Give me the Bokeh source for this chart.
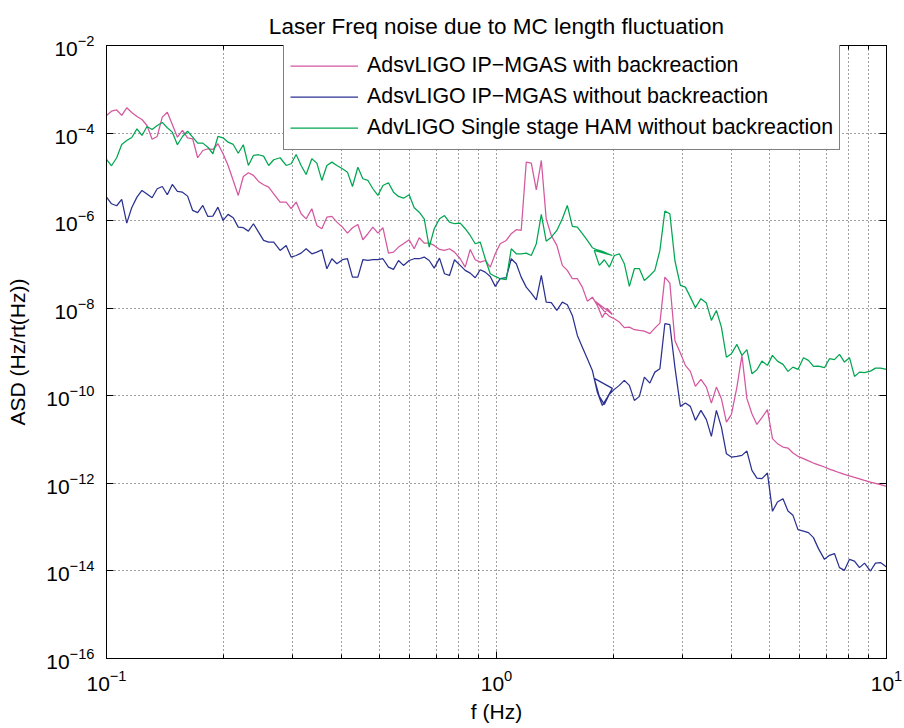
from bokeh.plotting import figure
from bokeh.models import Range1d, FixedTicker, LogAxis, CustomJSTickFormatter
from bokeh.embed import file_html
from bokeh.resources import INLINE

# ---------------- data ----------------
# frequency axis, segment A (0.1 - ~2 Hz) and segment B (~1.8 - 10 Hz)
freq_a = [0.1, 0.103, 0.1062, 0.1094, 0.1127, 0.1161, 0.1197, 0.1233, 0.127, 0.1309,
          0.1349, 0.139, 0.1432, 0.1475, 0.152, 0.1566, 0.1614, 0.1663, 0.1713, 0.1766,
          0.1819, 0.1874, 0.1931, 0.199, 0.205, 0.2113, 0.2177, 0.2243, 0.2311, 0.2381,
          0.2454, 0.2528, 0.2605, 0.2684, 0.2787,
          0.2888, 0.2975, 0.3064, 0.3155, 0.325, 0.3361, 0.3462, 0.3566, 0.3673, 0.3783,
          0.3897, 0.4027, 0.4148, 0.4273, 0.4411, 0.4543, 0.4681, 0.482, 0.4964, 0.5114,
          0.5284, 0.5444, 0.5607, 0.5774, 0.5972, 0.6152, 0.6336, 0.6526, 0.6722, 0.6923,
          0.7143, 0.7356, 0.7576, 0.7805, 0.8072, 0.8313, 0.8563, 0.882, 0.9085, 0.9357,
          0.9638, 0.9927, 1.022,
          1.059, 1.091, 1.124, 1.157, 1.192, 1.228, 1.265, 1.303, 1.341, 1.382,
          1.428, 1.475, 1.519, 1.565, 1.612, 1.66, 1.71, 1.761,
          1.814, 1.868, 1.924, 1.982]
freq_b = [1.781, 1.835, 1.89, 1.947, 2.005, 2.065, 2.127, 2.191, 2.257, 2.325, 2.394,
          2.473, 2.547, 2.624, 2.702, 2.783, 2.867,
          2.961, 3.05, 3.141, 3.236, 3.343,
          3.453, 3.556, 3.663, 3.773, 3.886, 4.003,
          4.135, 4.259, 4.386, 4.518, 4.653, 4.793,
          4.952, 5.1, 5.253,
          5.427, 5.59, 5.757, 5.93,
          6.124, 6.308, 6.497, 6.692,
          6.933, 7.141, 7.355, 7.576, 7.803, 8.037, 8.278, 8.526, 8.782,
          9.097, 9.371, 9.652, 10.0]

# AdsvLIGO IP-MGAS with backreaction
pink_a = [2.53e-4, 3.16e-4, 3.37e-4, 2.53e-4, 3.78e-4, 2.95e-4, 2.39e-4, 2.04e-4, 1.49e-4, 7.25e-5,
          8.37e-5, 2.31e-4, 3.0e-4, 1.57e-4, 8.06e-5, 1.15e-4, 7.81e-5, 7.41e-5, 2.73e-5, 4.0e-5,
          4.38e-5, 4.22e-5, 5.7e-5, 3.37e-5, 1.82e-5, 8.28e-6, 3.76e-6, 1.02e-5, 1.24e-5, 1.08e-5,
          7.85e-6, 6.6e-6, 5.82e-6, 4.11e-6, 2.65e-6,
          2.65e-6, 1.87e-6, 2.65e-6, 1.44e-6, 1.1e-6, 1.87e-6, 7.77e-7, 6.53e-7, 1.2e-6, 1.25e-6,
          9.24e-7, 7.1e-7, 5.18e-7, 6.89e-7, 8.19e-7, 3.66e-7, 5.02e-7, 7.1e-7, 5.18e-7, 6.89e-7,
          1.81e-7, 1.91e-7, 2.49e-7, 2.97e-7, 3.66e-7, 2.28e-7, 4.07e-7, 3.07e-7, 3.07e-7, 2.72e-7,
          2.2e-7, 2.09e-7, 2.28e-7, 1.91e-7, 1.35e-7, 8.67e-8, 2.2e-7, 1.28e-7, 1.13e-7, 1.23e-7,
          8.67e-8, 1.75e-7, 2.97e-7,
          3.53e-7, 5.02e-7, 6.2e-7, 5.97e-7, 2.17e-5, 2.06e-5, 5.07e-6, 2.37e-5, 1.1e-6, 4.59e-7,
          2.72e-7, 9.49e-8, 7.3e-8, 4.72e-8, 4.72e-8, 3.03e-8, 1.45e-8, 1.79e-8,
          1.16e-8, 6.17e-9, 9.9e-9, 7.2e-9]
pink_b = [1.51e-8, 1.16e-8, 8.45e-9, 6.5e-9, 5.76e-9, 4.82e-9, 3.59e-9, 3.7e-9, 3.23e-9, 3.11e-9, 3.0e-9,
          2.62e-9, 3.51e-9, 4.57e-9, 5.13e-8, 3.74e-8, 1.84e-9,
          9.53e-10, 4.95e-10, 3.61e-10, 1.64e-10, 2.37e-10,
          1.58e-10, 6.81e-11, 1.58e-10, 8.6e-11, 2.51e-11, 3.76e-11,
          1.58e-10, 8.37e-10, 8.6e-11, 3.9e-11, 2.22e-11, 3.16e-11,
          4.82e-11, 1.05e-11, 8.06e-12,
          6.74e-12, 6.4e-12, 4.92e-12, 4.14e-12,
          3.66e-12, 3.26e-12, 2.91e-12, 2.65e-12,
          2.36e-12, 2.12e-12, 1.93e-12, 1.75e-12, 1.6e-12, 1.48e-12, 1.37e-12, 1.27e-12, 1.17e-12,
          1.07e-12, 1.0e-12, 9.33e-13, 8.54e-13]

# AdsvLIGO IP-MGAS without backreaction
blue_a = [3.44e-6, 2.43e-6, 2.19e-6, 3.05e-6, 8.77e-7, 2.0e-6, 3.44e-6, 4.89e-6, 4.07e-6, 3.33e-6,
          5.35e-6, 6.03e-6, 3.9e-6, 6.71e-6, 4.64e-6, 4.47e-6, 3.63e-6, 1.71e-6, 1.52e-6, 2.22e-6,
          1.25e-6, 1.27e-6, 2.03e-6, 1.01e-6, 1.39e-6, 1.16e-6, 7.1e-7, 6.89e-7, 5.76e-7, 8.5e-7,
          5.46e-7, 3.53e-7, 3.23e-7, 3.23e-7, 2.09e-7,
          2.72e-7, 1.47e-7, 1.6e-7, 1.81e-7, 2.28e-7, 1.75e-7, 1.91e-7, 2.17e-7, 7.98e-8, 1.35e-7,
          1.04e-7, 1.28e-7, 1.35e-7, 5.13e-8, 5.13e-8, 1.28e-7, 1.23e-7, 1.28e-7, 1.28e-7, 1.35e-7,
          8.67e-8, 7.7e-8, 1.23e-7, 9.49e-8, 1.23e-7, 1.35e-7, 1.35e-7, 1.47e-7, 1.23e-7, 8.23e-8,
          1.39e-7, 6.13e-8, 5.6e-8, 1.28e-7, 9.49e-8, 7.3e-8, 6.33e-8, 4.97e-8, 7.57e-8, 6.68e-8,
          5.32e-8, 3.15e-8, 4.72e-8,
          4.97e-8, 1.35e-7, 1.04e-7, 5.13e-8, 3.03e-8, 2.21e-8, 1.56e-8, 5.6e-8, 1.38e-8, 1.34e-8,
          8.9e-9, 1.38e-8, 1.2e-8, 6.85e-9, 2.39e-9, 1.29e-9, 7.03e-10, 3.8e-10,
          1.2e-10, 6.03e-11, 9.2e-11, 1.48e-10]
blue_b = [2.5e-10, 9.7e-11, 6.36e-11, 1.08e-10, 1.4e-10, 1.73e-10, 2.25e-10, 1.73e-10, 7.85e-11, 9.7e-11, 2.67e-10,
          1.95e-10, 3.47e-10, 4.16e-10, 4.43e-9, 4.2e-9, 4.52e-10,
          5.73e-11, 6.81e-11, 5.73e-11, 2.75e-11, 4.64e-11,
          2.85e-11, 1.18e-11, 4.64e-11, 1.93e-11, 4.76e-12, 3.99e-12,
          4.14e-12, 4.36e-12, 5.46e-12, 1.98e-12, 1.32e-12, 1.28e-12,
          1.72e-12, 2.3e-13, 3.74e-13,
          4.47e-13, 2.33e-13, 1.86e-13, 8.77e-14,
          8.15e-14, 7.5e-14, 5.76e-14, 3.23e-14,
          1.84e-14, 2.27e-14, 2.49e-14, 1.19e-14, 1.03e-14, 1.84e-14, 1.68e-14, 1.19e-14, 1.51e-14,
          9.95e-15, 1.51e-14, 1.55e-14, 1.23e-14]

# AdvLIGO Single stage HAM without backreaction
green_a = [2.5e-5, 1.79e-5, 2.73e-5, 5.5e-5, 6.78e-5, 7.93e-5, 1.25e-4, 8.81e-5, 1.41e-4, 1.21e-4,
           1.49e-4, 1.75e-4, 1.32e-4, 1.05e-4, 5.41e-5, 8.37e-5, 1.1e-4, 8.06e-5, 5.89e-5, 5.89e-5,
           4.76e-5, 3.37e-5, 8.37e-5, 7.81e-5, 6.2e-5, 5.5e-5, 3.47e-5, 5.41e-5, 1.82e-5, 3.08e-5,
           3.2e-5, 2.97e-5, 1.82e-5, 2.46e-5, 2.73e-5,
           1.82e-5, 1.99e-5, 3.25e-5, 1.82e-5, 1.13e-5, 2.59e-5, 2.06e-5, 8.28e-6, 1.82e-5, 2.17e-5,
           1.82e-5, 1.53e-5, 1.28e-5, 6.03e-6, 1.66e-5, 9.05e-6, 8.28e-6, 5.35e-6, 3.76e-6, 6.36e-6,
           7.34e-6, 4.47e-6, 3.57e-6, 3.26e-6, 3.9e-6, 1.97e-6, 1.56e-6, 1.1e-6, 2.49e-7, 6.53e-7,
           1.1e-6, 1.31e-6, 9.24e-7, 8.5e-7, 8.77e-7, 6.53e-7, 4.59e-7, 2.97e-7, 3.23e-7, 1.35e-7,
           6.13e-8, 5.32e-8, 4.72e-8,
           4.47e-8, 2.28e-7, 1.75e-7, 1.75e-7, 1.81e-7, 1.6e-7, 2.97e-7, 1.39e-6, 3.4e-7, 4.2e-7,
           5.97e-7, 1.1e-6, 2.22e-6, 7.37e-7, 7.1e-7, 5.02e-7, 3.53e-7, 2.41e-7,
           2.14e-7, 1.98e-7, 1.78e-7, 1.6e-7]
green_b = [2.09e-7, 9.49e-8, 1.28e-7, 8.67e-8, 1.6e-7, 1.75e-7, 1.04e-7, 3.15e-8, 7.98e-8, 7.98e-8, 4.31e-8,
           5.6e-8, 7.3e-8, 2.09e-7, 1.65e-6, 1.44e-6, 1.23e-7,
           3.32e-8, 3.03e-8, 1.79e-8, 1.03e-8, 1.65e-8,
           1.31e-8, 5.27e-9, 8.9e-9, 3.7e-9, 7.63e-10, 9.16e-10,
           1.49e-9, 8.37e-10, 1.13e-9, 3.2e-10, 3.94e-10, 6.2e-10,
           4.95e-10, 8.37e-10, 6.2e-10,
           5.21e-10, 3.61e-10, 4.52e-10, 4.0e-10,
           7.41e-10, 6.43e-10, 4.69e-10, 4.76e-10,
           4.38e-10, 7.03e-10, 6.68e-10, 8.81e-10, 5.89e-10, 7.41e-10, 2.77e-10, 3.47e-10, 3.37e-10,
           3.66e-10, 4.29e-10, 4.29e-10, 4.0e-10]

series_names = ["AdsvLIGO IP\u2212MGAS with backreaction",
                "AdsvLIGO IP\u2212MGAS without backreaction",
                "AdvLIGO Single stage HAM without backreaction"]
series_colors = ["#d4579f", "#2b3190", "#00a650"]

x_ticks = [0.1, 1.0, 10.0]
x_minor = [0.2, 0.3, 0.4, 0.5, 0.6, 0.7, 0.8, 0.9, 2, 3, 4, 5, 6, 7, 8, 9]
y_ticks = [1e-16, 1e-14, 1e-12, 1e-10, 1e-8, 1e-6, 1e-4, 1e-2]

# ---------------- figure ----------------
FONT = "Liberation Sans"
FS = "21px"

p = figure(width=904, height=728, x_axis_type="log", y_axis_type="log",
           x_range=Range1d(0.1, 10), y_range=Range1d(1e-16, 1e-2),
           output_backend="svg", toolbar_location=None,
           min_border_left=106, min_border_right=18, min_border_top=45, min_border_bottom=70,
           title="Laser Freq noise due to MC length fluctuation")
p.background_fill_color = "white"
p.border_fill_color = "white"
p.outline_line_color = "black"
p.outline_line_width = 1

p.title.align = "center"
p.title.text_font = FONT
p.title.text_font_size = "22.5px"
p.title.text_font_style = "normal"
p.title.text_color = "black"
p.title.standoff = 14

xt = FixedTicker(ticks=x_ticks, minor_ticks=x_minor)
yt = FixedTicker(ticks=y_ticks, minor_ticks=[])
p.xaxis.ticker = xt
p.yaxis.ticker = yt
p.xgrid.ticker = xt
p.ygrid.ticker = yt

for ax in (p.xaxis[0], p.yaxis[0]):
    ax.major_tick_in = 7
    ax.major_tick_out = 0
    ax.minor_tick_in = 4
    ax.minor_tick_out = 0
    ax.axis_line_color = "black"
    ax.major_tick_line_color = "black"
    ax.minor_tick_line_color = "black"
    ax.major_label_text_font = FONT
    ax.major_label_text_font_size = FS
    ax.major_label_text_color = "black"
    ax.axis_label_text_font = FONT
    ax.axis_label_text_font_size = FS
    ax.axis_label_text_font_style = "normal"
    ax.axis_label_text_color = "black"

p.xaxis.axis_label = "f (Hz)"
p.yaxis.axis_label = "ASD (Hz/rt(Hz))"
p.xaxis.major_label_standoff = 11
p.xaxis.axis_label_standoff = 6
p.yaxis.major_label_standoff = 12
p.yaxis.axis_label_standoff = 14

right_ax = LogAxis(ticker=yt, formatter=CustomJSTickFormatter(code="return ''"),
                   major_tick_in=7, major_tick_out=0,
                   minor_tick_in=0, minor_tick_out=0, major_label_standoff=0,
                   major_label_text_font_size="1px", axis_line_color="black")
top_ax = LogAxis(ticker=xt, formatter=CustomJSTickFormatter(code="return ''"),
                 major_tick_in=7, major_tick_out=0, minor_tick_in=4, minor_tick_out=0,
                 major_label_standoff=0, major_label_text_font_size="1px",
                 axis_line_color="black")
p.add_layout(right_ax, "right")
p.add_layout(top_ax, "above")

for g in (p.xgrid[0], p.ygrid[0]):
    g.grid_line_color = "black"
    g.grid_line_alpha = 0.75
    g.grid_line_dash = "1 3"
    g.grid_line_width = 1
p.xgrid.minor_grid_line_color = "black"
p.xgrid.minor_grid_line_alpha = 0.75
p.xgrid.minor_grid_line_dash = "1 3"
p.ygrid.minor_grid_line_color = None

curves = [(pink_a + pink_b), (blue_a + blue_b), (green_a + green_b)]
freq = freq_a + freq_b
for yv, name, col in zip(curves, series_names, series_colors):
    p.line(freq, yv, line_color=col, line_width=1.25, legend_label=name)

lg = p.legend[0]
lg.location = (177, 508)
lg.border_line_color = "black"
lg.border_line_width = 1
lg.background_fill_color = "white"
lg.background_fill_alpha = 1.0
lg.label_text_font = FONT
lg.label_text_font_size = "21.4px"
lg.label_text_color = "black"
lg.glyph_width = 68
lg.glyph_height = 31
lg.label_height = 31
lg.label_standoff = 9
lg.padding = 6
lg.spacing = 0
lg.margin = 0

open("out.html", "w").write(file_html(p, INLINE))
